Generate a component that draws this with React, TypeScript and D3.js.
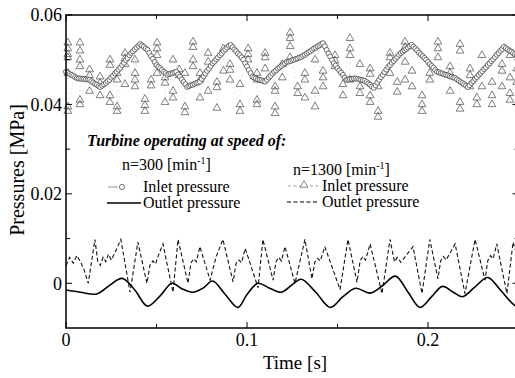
import React from 'react';
import * as d3 from 'd3';

// Pressure traces of the turbine: n=300 (circles / solid) and n=1300 (triangles / dashed)
const W = 515;
const H = 378;
const sampleStep = 0.001; // s, spacing of the n=300 inlet samples

// n=300 inlet pressure [MPa], one value every 1 ms from t=0
const inlet300 = [
  0.0473, 0.0471, 0.0468, 0.0466, 0.0464, 0.0461, 0.0459,
  0.0458, 0.0458, 0.0457, 0.0457, 0.0456, 0.0456, 0.0455,
  0.0452, 0.0449, 0.0446, 0.0444, 0.0441, 0.0439,
  0.0442, 0.0445, 0.0448, 0.0452, 0.0455,
  0.0460, 0.0464, 0.0469, 0.0473, 0.0478, 0.0482,
  0.0488, 0.0493, 0.0499, 0.0504, 0.0510, 0.0515,
  0.0519, 0.0523, 0.0527, 0.0531, 0.0535,
  0.0532, 0.0529, 0.0525, 0.0522,
  0.0515, 0.0508, 0.0502, 0.0495, 0.0488,
  0.0484, 0.0481, 0.0477, 0.0473, 0.0470, 0.0466,
  0.0468, 0.0469, 0.0470, 0.0472, 0.0473,
  0.0467, 0.0462, 0.0456, 0.0450, 0.0445, 0.0439,
  0.0441, 0.0443, 0.0444, 0.0446, 0.0448, 0.0449, 0.0451,
  0.0457, 0.0463, 0.0469, 0.0475, 0.0480, 0.0486, 0.0492,
  0.0496, 0.0501, 0.0505, 0.0510, 0.0514, 0.0519, 0.0523, 0.0527, 0.0531,
  0.0533,
  0.0528, 0.0523, 0.0519, 0.0514, 0.0510, 0.0505, 0.0500,
  0.0492, 0.0485, 0.0477, 0.0470, 0.0462,
  0.0460, 0.0458, 0.0456, 0.0455, 0.0454, 0.0452, 0.0451,
  0.0455, 0.0460, 0.0464, 0.0469, 0.0473,
  0.0476, 0.0480, 0.0483, 0.0486, 0.0489, 0.0492, 0.0495,
  0.0496, 0.0497, 0.0499, 0.0500, 0.0502, 0.0503, 0.0505, 0.0506,
  0.0509, 0.0511, 0.0514, 0.0517, 0.0519, 0.0522,
  0.0525, 0.0527, 0.0530, 0.0532, 0.0535, 0.0537,
  0.0530, 0.0522, 0.0514, 0.0507, 0.0499, 0.0492,
  0.0487, 0.0481, 0.0476, 0.0471, 0.0466, 0.0460, 0.0455,
  0.0456, 0.0457, 0.0457, 0.0458, 0.0458, 0.0457, 0.0456, 0.0455, 0.0454, 0.0453,
  0.0450, 0.0447, 0.0444, 0.0440, 0.0437,
  0.0443, 0.0449, 0.0455, 0.0461, 0.0466, 0.0472, 0.0478, 0.0484,
  0.0488, 0.0493, 0.0497, 0.0502, 0.0506, 0.0511, 0.0515,
  0.0518, 0.0521, 0.0524, 0.0527, 0.0530, 0.0533,
  0.0529, 0.0525, 0.0521, 0.0516, 0.0512, 0.0508, 0.0504,
  0.0500, 0.0495, 0.0490, 0.0486, 0.0482, 0.0477, 0.0473,
  0.0472, 0.0470, 0.0469, 0.0467, 0.0466, 0.0465, 0.0463, 0.0462, 0.0460, 0.0459,
  0.0456, 0.0453, 0.0450, 0.0448, 0.0445, 0.0442, 0.0439,
  0.0443, 0.0448, 0.0452, 0.0457, 0.0461, 0.0466, 0.0470,
  0.0474, 0.0479, 0.0483, 0.0488, 0.0492, 0.0497, 0.0501, 0.0506,
  0.0511, 0.0515, 0.0520, 0.0524, 0.0529,
  0.0526, 0.0523, 0.0520, 0.0518, 0.0515, 0.0512, 0.0510,
];

// n=300 outlet pressure [t s, p MPa]
const outlet300: [number, number][] = [
  [0.000, -0.0015], [0.008, -0.0020], [0.017, -0.0024], [0.024, -0.0005], [0.031, 0.0011],
  [0.038, -0.0015], [0.045, -0.0051], [0.052, -0.0028], [0.0586, 0.0000], [0.064, -0.0012],
  [0.070, -0.0020], [0.076, -0.0010], [0.081, 0.0005], [0.088, -0.0025], [0.095, -0.0054],
  [0.100, -0.0025], [0.106, 0.0000], [0.112, -0.0010], [0.119, -0.0020], [0.125, -0.0003],
  [0.130, 0.0009], [0.138, -0.0020], [0.146, -0.0054], [0.153, -0.0030], [0.160, -0.0011],
  [0.168, -0.0022], [0.175, -0.0005], [0.182, 0.0016], [0.189, -0.0020], [0.1956, -0.0054],
  [0.202, -0.0030], [0.208, -0.0007], [0.214, -0.0020], [0.219, -0.0030], [0.226, -0.0008],
  [0.233, 0.0013], [0.240, -0.0015], [0.248, -0.0050], [0.252, -0.0055],
];

// n=1300 inlet pressure, triangle columns [t s, p MPa values]
const inlet1300: [number, number[]][] = [
  [0.001, [0.0538, 0.0525, 0.0512, 0.0505, 0.0470, 0.0395, 0.0385]],
  [0.0077, [0.0538, 0.0520, 0.0500, 0.0485, 0.0410, 0.0400]],
  [0.0130, [0.0478, 0.0465, 0.0430]],
  [0.0188, [0.0462, 0.0448, 0.0420]],
  [0.0243, [0.0500, 0.0488, 0.0420, 0.0405]],
  [0.0282, [0.0470, 0.0455, 0.0395, 0.0385]],
  [0.0326, [0.0515, 0.0503, 0.0490, 0.0445]],
  [0.0381, [0.0455, 0.0440, 0.0470, 0.0500]],
  [0.0436, [0.0412, 0.0398, 0.0385]],
  [0.0470, [0.0455, 0.0442]],
  [0.0503, [0.0538, 0.0525, 0.0510, 0.0470]],
  [0.0547, [0.0460, 0.0448, 0.0405]],
  [0.0591, [0.0430, 0.0415, 0.0500]],
  [0.0625, [0.0478, 0.0465]],
  [0.0657, [0.0395, 0.0382, 0.0470]],
  [0.0702, [0.0540, 0.0528, 0.0500, 0.0485]],
  [0.0740, [0.0470, 0.0455, 0.0415]],
  [0.0785, [0.0515, 0.0495, 0.0430]],
  [0.0834, [0.0450, 0.0438, 0.0392]],
  [0.0870, [0.0525, 0.0475]],
  [0.0906, [0.0490, 0.0477, 0.0455]],
  [0.0961, [0.0400, 0.0385, 0.0445]],
  [0.1006, [0.0525, 0.0512, 0.0500]],
  [0.1055, [0.0470, 0.0455, 0.0410, 0.0400]],
  [0.1100, [0.0515, 0.0505, 0.0480]],
  [0.1155, [0.0440, 0.0430, 0.0395, 0.0380]],
  [0.1195, [0.0490, 0.0460]],
  [0.1238, [0.0560, 0.0548, 0.0530, 0.0505]],
  [0.1280, [0.0440, 0.0425]],
  [0.1320, [0.0470, 0.0455, 0.0415]],
  [0.1376, [0.0430, 0.0395, 0.0500]],
  [0.1420, [0.0475, 0.0460, 0.0440]],
  [0.1486, [0.0510, 0.0498, 0.0485]],
  [0.1530, [0.0445, 0.0420]],
  [0.1569, [0.0548, 0.0525, 0.0510, 0.0455]],
  [0.1624, [0.0440, 0.0425, 0.0490]],
  [0.1680, [0.0480, 0.0468, 0.0420, 0.0405]],
  [0.1724, [0.0440, 0.0385, 0.0372]],
  [0.1790, [0.0515, 0.0505, 0.0470]],
  [0.1830, [0.0450, 0.0428]],
  [0.1873, [0.0540, 0.0528, 0.0495, 0.0455]],
  [0.1912, [0.0475, 0.0440]],
  [0.1967, [0.0420, 0.0400, 0.0385]],
  [0.2010, [0.0470, 0.0455]],
  [0.2055, [0.0540, 0.0525, 0.0505]],
  [0.2122, [0.0485, 0.0470, 0.0430]],
  [0.2177, [0.0535, 0.0520, 0.0405, 0.0390]],
  [0.2232, [0.0480, 0.0465, 0.0440]],
  [0.2270, [0.0415, 0.0400]],
  [0.2298, [0.0510, 0.0440]],
  [0.2354, [0.0450, 0.0420, 0.0400]],
  [0.2409, [0.0490, 0.0475, 0.0440]],
  [0.2453, [0.0510, 0.0460, 0.0425, 0.0410]],
  [0.2490, [0.0480, 0.0450]],
];

// n=1300 outlet pressure [t s, p MPa]
const outlet1300: [number, number][] = [
  [0.000, 0.0040], [0.002, 0.0058], [0.004, 0.0045], [0.006, 0.0062], [0.008, 0.0048],
  [0.010, 0.0030], [0.0123, 0.0000], [0.016, 0.0098], [0.0175, 0.0050], [0.019, 0.0040],
  [0.0205, 0.0058], [0.022, 0.0048], [0.0235, 0.0065], [0.025, 0.0052], [0.027, 0.0068],
  [0.0303, 0.0098], [0.0354, -0.0020], [0.0397, 0.0092], [0.0447, 0.0000], [0.0465, 0.0042],
  [0.048, 0.0050], [0.0495, 0.0043], [0.051, 0.0062], [0.0536, 0.0088], [0.0555, 0.0050],
  [0.0591, -0.0020], [0.0619, 0.0098], [0.0674, 0.0000], [0.069, 0.0045], [0.0705, 0.0055],
  [0.072, 0.0048], [0.074, 0.0082], [0.0796, 0.0007], [0.083, 0.0060], [0.0867, 0.0098],
  [0.0923, 0.0003], [0.094, 0.0045], [0.0955, 0.0052], [0.097, 0.0046], [0.099, 0.0078],
  [0.1017, 0.0045], [0.1061, -0.0010], [0.1088, 0.0098], [0.1144, 0.0007], [0.116, 0.0048],
  [0.1175, 0.0058], [0.119, 0.0050], [0.121, 0.0082], [0.1265, 0.0000], [0.132, 0.0098],
  [0.1359, 0.0010], [0.1375, 0.0048], [0.139, 0.0056], [0.1405, 0.0050], [0.143, 0.0082],
  [0.1514, -0.0014], [0.1558, 0.0098], [0.1608, 0.0002], [0.1625, 0.0050], [0.164, 0.0060],
  [0.1655, 0.0052], [0.168, 0.0088], [0.1746, -0.0023], [0.179, 0.0098], [0.1815, 0.0048],
  [0.183, 0.0058], [0.185, 0.0047], [0.1917, 0.0082], [0.1967, -0.0023], [0.201, 0.0098],
  [0.2055, 0.0010], [0.207, 0.0050], [0.2085, 0.0060], [0.210, 0.0052], [0.215, 0.0088],
  [0.2204, -0.0023], [0.226, 0.0098], [0.2315, 0.0007], [0.233, 0.0050], [0.2345, 0.0062],
  [0.236, 0.0055], [0.238, 0.0088], [0.2436, -0.0023], [0.247, 0.0092], [0.250, 0.0050],
];

const xMajor = [0, 0.1, 0.2];
const xLabels = ['0', '0.1', '0.2'];
const xMinor = [0.05, 0.15];
const yMajor = [0.06, 0.04, 0.02, 0];
const yLabels = ['0.06', '0.04', '0.02', '0'];
const yMinor = [0.05, 0.03, 0.01];

const serif = '"Liberation Serif", "Times New Roman", Tinos, "DejaVu Serif", "Noto Serif", serif';

export default function App() {
  const x = d3.scaleLinear().domain([0, 0.25]).range([66, 518.5]);
  const y = d3.scaleLinear().domain([-0.01, 0.06]).range([328, 15]);
  const [x0, x1] = x.range();
  const [yb, yt] = y.range();

  const circlePts = inlet300.map((v, i) => [i * sampleStep, v] as [number, number]);
  const triPts: [number, number][] = inlet1300.flatMap(([t, vals]) => vals.map(v => [t, v] as [number, number]));

  const lin = d3.line<[number, number]>().x(d => x(d[0])).y(d => y(d[1]));
  const smooth = d3.line<[number, number]>().x(d => x(d[0])).y(d => y(d[1])).curve(d3.curveCatmullRom.alpha(0.5));
  const tri = d3.symbol().type(d3.symbolTriangle).size(26)() as string;

  return (
    <svg width={W} height={H} style={{ position: 'absolute', left: 0, top: 0, background: '#fff', fontFamily: serif }}>
      {/* n=1300 inlet: faint dashed line with triangles */}
      <path d={lin(triPts) || ''} fill="none" stroke="#d0d0d0" strokeWidth={0.5} strokeDasharray="2,3" />
      {triPts.map((d, i) => (
        <path key={'t' + i} d={tri} transform={`translate(${x(d[0])},${y(d[1])})`}
          fill="none" stroke="#555" strokeWidth={0.75} />
      ))}

      {/* n=300 inlet: circles */}
      {circlePts.map((d, i) => (
        <circle key={'c' + i} cx={x(d[0])} cy={y(d[1])} r={2.5} fill="#fff" stroke="#333" strokeWidth={0.7} />
      ))}

      {/* outlet pressures */}
      <path d={lin(outlet1300) || ''} fill="none" stroke="#111" strokeWidth={1.1} strokeDasharray="4,2.5" />
      <path d={smooth(outlet300) || ''} fill="none" stroke="#000" strokeWidth={1.6} />

      {/* frame */}
      <rect x={x0} y={yt} width={x1 - x0} height={yb - yt} fill="none" stroke="#000" strokeWidth={1.5} />

      {/* x ticks, bottom and top, inward */}
      {xMajor.map((t, i) => (
        <g key={'xm' + i}>
          <line x1={x(t)} x2={x(t)} y1={yb} y2={yb - 6} stroke="#000" />
          <line x1={x(t)} x2={x(t)} y1={yt} y2={yt + 6} stroke="#000" />
          <text x={x(t)} y={346} textAnchor="middle" fontSize={18}>{xLabels[i]}</text>
        </g>
      ))}
      {xMinor.map((t, i) => (
        <g key={'xn' + i}>
          <line x1={x(t)} x2={x(t)} y1={yb} y2={yb - 4} stroke="#000" />
          <line x1={x(t)} x2={x(t)} y1={yt} y2={yt + 4} stroke="#000" />
        </g>
      ))}

      {/* y ticks, left and right, inward */}
      {yMajor.map((v, i) => (
        <g key={'ym' + i}>
          <line x1={x0} x2={x0 + 6} y1={y(v)} y2={y(v)} stroke="#000" />
          <line x1={x1} x2={x1 - 6} y1={y(v)} y2={y(v)} stroke="#000" />
          <text x={62} y={y(v)} dy="0.35em" textAnchor="end" fontSize={18}>{yLabels[i]}</text>
        </g>
      ))}
      {yMinor.map((v, i) => (
        <g key={'yn' + i}>
          <line x1={x0} x2={x0 + 4} y1={y(v)} y2={y(v)} stroke="#000" />
          <line x1={x1} x2={x1 - 4} y1={y(v)} y2={y(v)} stroke="#000" />
        </g>
      ))}

      {/* axis titles */}
      <text x={295} y={369} textAnchor="middle" fontSize={19}>Time [s]</text>
      <text transform="translate(24,170) rotate(-90)" textAnchor="middle" fontSize={20}>Pressures [MPa]</text>

      {/* legend */}
      <text x={87} y={146} fontSize={16} fontWeight="bold" fontStyle="italic">Turbine operating at speed of:</text>
      <text x={122} y={170} fontSize={16}>n=300 [min<tspan dy={-6} fontSize={10}>-1</tspan><tspan dy={6}>]</tspan></text>
      <text x={293} y={175} fontSize={16}>n=1300 [min<tspan dy={-6} fontSize={10}>-1</tspan><tspan dy={6}>]</tspan></text>

      <line x1={108} x2={118} y1={187} y2={187} stroke="#777" strokeWidth={0.8} />
      <circle cx={122} cy={187} r={2.6} fill="#fff" stroke="#555" strokeWidth={0.8} />
      <text x={143} y={192} fontSize={16}>Inlet pressure</text>
      <line x1={107} x2={141} y1={203} y2={203} stroke="#000" strokeWidth={1.6} />
      <text x={143} y={208} fontSize={16}>Outlet pressure</text>

      <line x1={288} x2={318} y1={186} y2={186} stroke="#888" strokeWidth={0.8} strokeDasharray="3,2.5" />
      <path d={tri} transform="translate(304,185)" fill="#fff" stroke="#666" strokeWidth={0.8} />
      <text x={322} y={191} fontSize={16}>Inlet pressure</text>
      <line x1={287} x2={318} y1={202} y2={202} stroke="#000" strokeWidth={1.2} strokeDasharray="4,2.5" />
      <text x={322} y={207} fontSize={16}>Outlet pressure</text>
    </svg>
  );
}
